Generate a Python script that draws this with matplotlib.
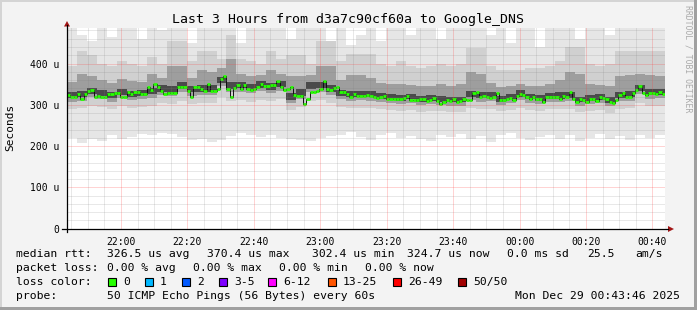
import numpy as np
import matplotlib
matplotlib.use("Agg")
from matplotlib import pyplot as plt
from matplotlib.patches import Rectangle, Polygon

# median rtt per minute, in microseconds (21:43:46 -> 00:43:46)
rtt_median = [
    323, 319, 319, 327, 315, 325, 334, 337, 318, 322, 319, 319, 325, 325, 329,
    329, 319, 319, 332, 327, 332, 330, 325, 327, 343, 337, 351, 342, 334, 327,
    329, 329, 329, 342, 342, 344, 333, 318, 342, 344, 339, 333, 351, 333, 333,
    339, 363, 370, 339, 318, 341, 347, 338, 347, 338, 335, 338, 343, 351, 345,
    345, 347, 347, 358, 343, 335, 338, 343, 323, 322, 322, 302, 315, 331, 330,
    333, 338, 357, 339, 335, 341, 343, 331, 331, 325, 318, 326, 322, 322, 322,
    324, 322, 319, 317, 319, 322, 315, 315, 315, 313, 313, 317, 322, 311, 311,
    311, 313, 315, 310, 311, 317, 310, 303, 307, 311, 310, 313, 307, 310, 313,
    311, 311, 328, 330, 319, 322, 319, 317, 319, 328, 311, 311, 313, 317, 311,
    322, 325, 324, 318, 315, 319, 315, 315, 307, 318, 318, 318, 319, 315, 322,
    319, 330, 313, 307, 313, 311, 306, 315, 313, 310, 319, 317, 314, 307, 305,
    311, 324, 328, 319, 319, 328, 337, 346, 329, 324, 328, 328, 326, 332, 325,
]

# smoke (ping spread), one value per 3 minute block, microseconds
smoke_min = [220, 207, 216, 212, 226, 218, 222, 230, 226, 232, 230, 222, 214, 218, 209,
             215, 225, 232, 228, 222, 226, 220, 218, 215, 212, 220, 224, 228, 235, 222,
             215, 226, 232, 220, 224, 218, 212, 226, 222, 230, 218, 224, 210, 226, 232,
             220, 214, 222, 228, 218, 226, 212, 220, 230, 218, 224, 214, 226, 220, 226]
smoke_p10 = [290, 292, 298, 295, 290, 297, 293, 295, 298, 304, 302, 310, 303, 304, 304,
             320, 310, 312, 308, 312, 309, 313, 288, 295, 310, 311, 304, 294, 292, 293,
             292, 289, 288, 286, 288, 283, 285, 284, 282, 282, 292, 290, 291, 284, 288,
             293, 288, 285, 289, 290, 291, 282, 285, 287, 281, 291, 292, 305, 296, 297]
smoke_p25 = [308, 310, 318, 314, 308, 316, 311, 314, 317, 324, 321, 331, 322, 323, 323,
             345, 330, 332, 328, 333, 329, 334, 304, 314, 331, 332, 324, 313, 310, 311,
             310, 307, 305, 302, 305, 299, 301, 300, 298, 298, 311, 308, 309, 300, 305,
             312, 305, 301, 306, 307, 309, 298, 301, 304, 297, 309, 310, 325, 315, 316]
smoke_p40 = [316, 318, 326, 322, 316, 324, 319, 322, 325, 332, 329, 339, 330, 331, 331,
             353, 338, 340, 336, 341, 337, 342, 312, 322, 339, 340, 332, 321, 318, 319,
             318, 315, 313, 310, 313, 307, 309, 308, 306, 306, 319, 316, 317, 308, 313,
             320, 313, 309, 314, 315, 317, 306, 309, 312, 305, 317, 318, 333, 323, 324]
smoke_p60 = [330, 333, 341, 337, 330, 339, 333, 337, 340, 348, 345, 356, 345, 347, 347,
             368, 355, 356, 351, 357, 353, 358, 328, 338, 355, 356, 348, 336, 333, 334,
             333, 329, 327, 324, 327, 321, 323, 322, 320, 320, 334, 331, 331, 322, 327,
             335, 327, 323, 328, 330, 332, 320, 323, 326, 319, 332, 333, 348, 338, 339]
smoke_p75 = [355, 375, 370, 360, 352, 362, 358, 356, 375, 365, 395, 395, 365, 385, 380,
             390, 410, 375, 370, 372, 385, 375, 370, 370, 372, 395, 395, 360, 372, 372,
             365, 352, 350, 350, 348, 345, 345, 350, 345, 350, 380, 375, 352, 342, 345,
             350, 345, 345, 350, 360, 380, 375, 350, 348, 345, 370, 372, 375, 372, 370]
smoke_p90 = [395, 430, 420, 400, 395, 405, 400, 395, 415, 400, 455, 455, 405, 430, 430,
             410, 470, 410, 405, 400, 430, 410, 420, 420, 400, 455, 455, 405, 423, 423,
             423, 400, 395, 405, 395, 390, 395, 400, 395, 400, 437, 437, 395, 385, 385,
             385, 390, 390, 395, 405, 440, 440, 400, 395, 400, 430, 430, 430, 430, 430]
smoke_max = [490, 470, 455, 490, 465, 490, 490, 460, 490, 480, 490, 490, 450, 490, 490,
             490, 490, 450, 490, 490, 490, 485, 460, 490, 490, 490, 455, 490, 445, 470,
             490, 455, 490, 490, 470, 490, 490, 460, 490, 490, 490, 490, 470, 490, 450,
             490, 490, 440, 490, 490, 490, 460, 490, 490, 470, 490, 490, 490, 490, 490]

x_labels = ["22:00", "22:20", "22:40", "23:00", "23:20", "23:40", "00:00", "00:20", "00:40"]
y_ticks = [0, 100, 200, 300, 400]
y_labels = ["0", "100 u", "200 u", "300 u", "400 u"]

loss_labels = ["0", "1", "2", "3-5", "6-12", "13-25", "26-49", "50/50"]
loss_colors = ["#26ff00", "#00b8ff", "#0059ff", "#7e00ff", "#ff00ff", "#ff5500", "#ff0000", "#a10000"]

W, H = 697, 310
MONO = "DejaVu Sans Mono"
plt.rcParams["font.family"] = MONO

fig = plt.figure(figsize=(W / 100, H / 100), dpi=100, facecolor="#f3f3f3")

# pixel space overlay for frame, texts and legend
bg = fig.add_axes([0, 0, 1, 1], zorder=0)
bg.set_xlim(0, W)
bg.set_ylim(H, 0)
bg.axis("off")
bg.add_patch(Rectangle((0, 0), W, 2, color="#d4d4d4", lw=0))
bg.add_patch(Rectangle((0, 0), 2, H, color="#d4d4d4", lw=0))
bg.add_patch(Rectangle((0, H - 3), W, 3, color="#a0a0a0", lw=0))
bg.add_patch(Rectangle((W - 3, 0), 3, H, color="#a0a0a0", lw=0))

# graph area
ax = fig.add_axes([67 / W, 1 - 228.7 / H, 598 / W, 200.7 / H], zorder=1)
ax.set_xlim(0, 180)
ax.set_ylim(0, 486)
ax.set_facecolor("white")
for s in ax.spines.values():
    s.set_visible(False)

med = np.array(rtt_median, dtype=float)
n = len(med)
xb = np.arange(0, n + 1, 3)


def ext(a):
    a = np.asarray(a, dtype=float)
    return np.append(a, a[-1])


# smoke, outer layers light, inner dark
bands = [(smoke_min, smoke_max, "#e6e6e6"),
         (smoke_p10, smoke_p90, "#d0d0d0"),
         (smoke_p25, smoke_p75, "#9e9e9e"),
         (smoke_p40, smoke_p60, "#4a4a4a")]
for lo, hi, c in bands:
    ax.fill_between(xb, ext(lo), ext(hi), step="post", color=c, lw=0, zorder=1)

# median: dark step line plus loss coloured segments
xm = np.arange(n + 1)
ax.step(xm, ext(med), where="post", color="#101010", lw=0.7, zorder=3)
ax.hlines(med, xm[:-1], xm[1:], color=loss_colors[0], lw=2.0, zorder=4)

# grid (drawn over the data like rrdtool), 1px on / 1px off
t0 = 1.0 + 14 / 60  # first 5 minute mark after 21:43:46
minor_x = np.arange(t0, n, 5)
major_x = np.arange(t0 + 15, n, 20)
dots = dict(lw=0.72, ls=(0, (1, 1)), zorder=5)
for xv in minor_x:
    if not np.any(np.isclose(major_x, xv)):
        ax.axvline(xv, color="#808080", alpha=0.35, **dots)
for yv in range(20, 486, 20):
    if yv % 100:
        ax.axhline(yv, color="#808080", alpha=0.35, **dots)
for xv in major_x:
    ax.axvline(xv, color="#ff4040", alpha=0.45, **dots)
for yv in y_ticks[1:]:
    ax.axhline(yv, color="#ff4040", alpha=0.45, **dots)

ax.set_xticks(major_x, labels=x_labels)
ax.set_yticks(y_ticks, labels=y_labels)
ax.tick_params(axis="x", length=0, pad=6.0, labelsize=7)
ax.tick_params(axis="y", length=0, pad=5.8, labelsize=7)

# axes lines and arrows
ax.plot([-1.5, 181], [0, 0], color="black", lw=0.9, clip_on=False, zorder=6)
ax.plot([0, 0], [-9, 494], color="black", lw=0.9, clip_on=False, zorder=6)
bg.add_patch(Polygon([(64, 26.5), (70, 26.5), (67, 21)], closed=True, color="#a31515", lw=0))
bg.add_patch(Polygon([(668, 226), (668, 232), (674, 229)], closed=True, color="#a31515", lw=0))

# texts
bg.text(348, 19.5, "Last 3 Hours from d3a7c90cf60a to Google_DNS", ha="center", va="center",
        fontsize=9.5)
bg.text(10, 127, "Seconds", rotation=90, ha="center", va="center", fontsize=8)
bg.text(688, 59, "RRDTOOL / TOBI OETIKER", rotation=270, ha="center", va="center",
        fontsize=5.9, color="#aaaaaa")

fs = 8.2
row1 = [(16, "median rtt:"), (107, "326.5 us avg"), (207, "370.4 us max"),
        (312, "302.4 us min"), (407, "324.7 us now"), (507, "0.0 ms sd"),
        (587, "25.5"), (635, "am/s")]
row2 = [(16, "packet loss:"), (107, "0.00 % avg"), (193, "0.00 % max"),
        (279, "0.00 % min"), (365, "0.00 % now")]
for x, s in row1:
    bg.text(x, 254.3, s, va="center", fontsize=fs)
for x, s in row2:
    bg.text(x, 268.3, s, va="center", fontsize=fs)

bg.text(16, 282.3, "loss color:", va="center", fontsize=fs)
box_x = [108, 145, 182, 219, 268, 328, 393, 458]
for bx, lab, col in zip(box_x, loss_labels, loss_colors):
    bg.add_patch(Rectangle((bx, 278.3), 8, 8, facecolor=col, edgecolor="black", lw=0.8))
    bg.text(bx + 15, 282.3, lab, va="center", fontsize=fs)

bg.text(16, 295.7, "probe:", va="center", fontsize=fs)
bg.text(107, 295.7, "50 ICMP Echo Pings (56 Bytes) every 60s", va="center", fontsize=fs)
bg.text(680, 295.7, "Mon Dec 29 00:43:46 2025", ha="right", va="center", fontsize=fs)

fig.savefig("out.png", dpi=100, facecolor=fig.get_facecolor())
